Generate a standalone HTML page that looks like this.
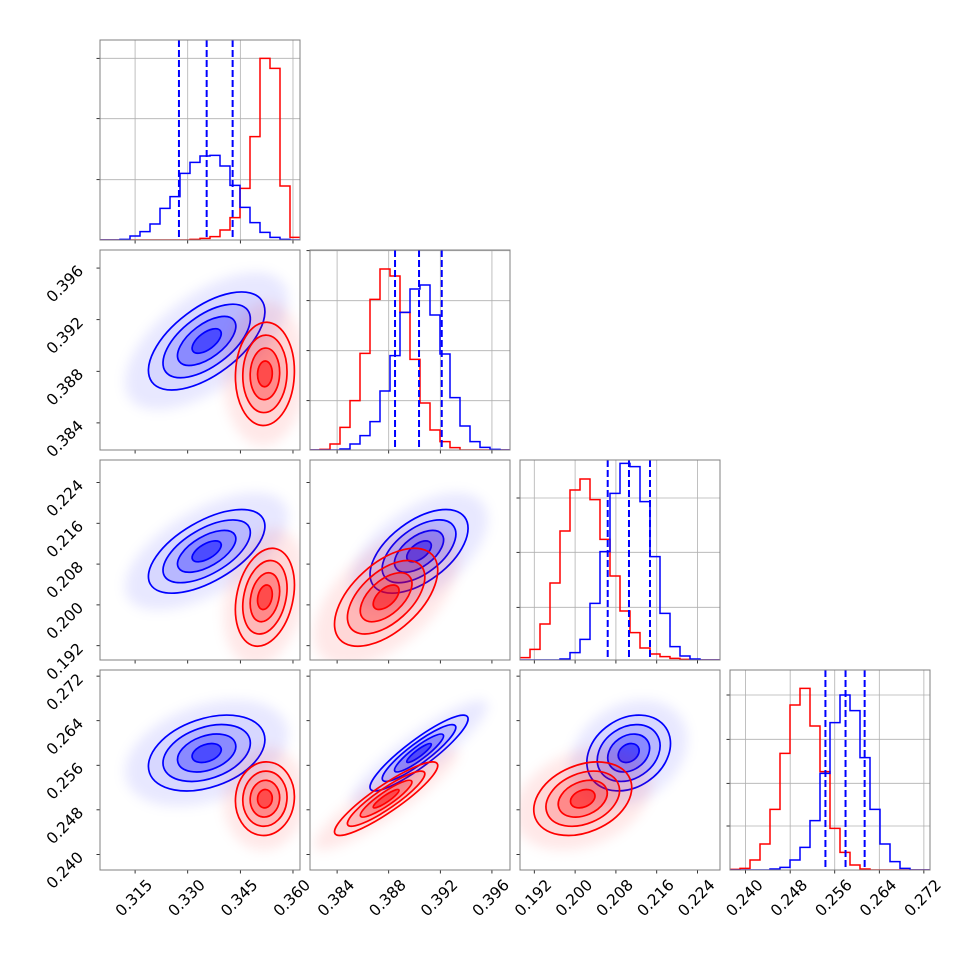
<!DOCTYPE html>
<html><head><meta charset="utf-8"><style>
html,body{margin:0;padding:0;background:#fff;}
svg{display:block;font-family:"DejaVu Sans","Liberation Sans",sans-serif;}
</style></head><body>
<svg id="chart" width="970" height="970" viewBox="0 0 970 970" xmlns="http://www.w3.org/2000/svg">
<defs>
<filter id="blur" x="-50%" y="-50%" width="200%" height="200%"><feGaussianBlur stdDeviation="6"/></filter>
</defs>
</svg>
<script>
// ---- data ----
const axisLo = [0.305, 0.3819, 0.1892, 0.2372];
const axisHi = [0.362, 0.3974, 0.2284, 0.2731];
const ticks0 = [0.315, 0.330, 0.345, 0.360];
const ticks1 = [0.384, 0.388, 0.392, 0.396];
const ticks2 = [0.192, 0.200, 0.208, 0.216, 0.224];
const ticks3 = [0.240, 0.248, 0.256, 0.264, 0.272];
const tickLabels0 = ["0.315","0.330","0.345","0.360"];
const tickLabels1 = ["0.384","0.388","0.392","0.396"];
const tickLabels2 = ["0.192","0.200","0.208","0.216","0.224"];
const tickLabels3 = ["0.240","0.248","0.256","0.264","0.272"];
const histBlue0 = [0,0,2,12,25,48,95,130,200,233,252,254,222,164,98,52,23,8,2,0];
const histRed0  = [0,0,0,0,0,0,0,0,0,2,5,10,30,67,155,310,545,515,162,8];
const histBlue1 = [0,0,0,3,18,43,85,177,283,413,483,495,405,288,157,72,25,8,2,0];
const histRed1  = [0,2,18,68,148,290,452,543,522,413,272,141,60,25,7,0,0,0,0,0];
const histBlue2 = [0,0,0,0,3,22,62,170,325,500,590,580,475,310,140,40,12,3,0,0];
const histRed2  = [7,32,108,231,387,510,543,481,362,252,147,82,36,18,10,5,2,0,0,0];
const histBlue3 = [0,0,0,0,3,8,30,68,148,290,442,525,478,337,182,78,25,5,0,0];
const histRed3  = [2,5,30,78,182,350,495,545,432,295,125,53,15,3,0,0,0,0,0,0];
const histMax = 600;
const histTicks0 = [181,364,545];
const histTicks1 = [148,298,448,598];
const histTicks2 = [158,323,486];
const histTicks3 = [132,260,392,525];
const q16Blue = [0.3275, 0.38849, 0.20639, 0.25433];
const q50Blue = [0.3354, 0.39035, 0.21056, 0.25794];
const q84Blue = [0.3428, 0.39211, 0.21468, 0.26137];
const meanBlue = [0.3354, 0.39035, 0.2105, 0.2582];
const sdBlue   = [0.0083, 0.0019, 0.0041, 0.0034];
const meanRed  = [0.3520, 0.3878, 0.2015, 0.2500];
const sdRed    = [0.0042, 0.0020, 0.0048, 0.0033];
// correlations for pairs (0,1),(0,2),(0,3),(1,2),(1,3),(2,3)
const corrBlue = [0.6, 0.6, 0.35, 0.55, 0.9, 0.25];
const corrRed  = [0.05, 0.25, 0.05, 0.55, 0.9, 0.3];
const contourLevels = [2, 1.5, 1, 0.5];

// ---- layout ----
const NS = "http://www.w3.org/2000/svg";
const svg = document.getElementById('chart');
const SZ = 200;
const ticks = [ticks0, ticks1, ticks2, ticks3];
const tickLabels = [tickLabels0, tickLabels1, tickLabels2, tickLabels3];
const histBlue = [histBlue0, histBlue1, histBlue2, histBlue3];
const histRed = [histRed0, histRed1, histRed2, histRed3];
const histTicks = [histTicks0, histTicks1, histTicks2, histTicks3];
function pairIndex(i, j) { const a = Math.min(i,j), b = Math.max(i,j); return [[-1,0,1,2],[0,-1,3,4],[1,3,-1,5],[2,4,5,-1]][a][b]; }
function mk(tag, attrs, parent) { const e = document.createElementNS(NS, tag); for (const k in attrs) e.setAttribute(k, attrs[k]); (parent||svg).appendChild(e); return e; }
function panelLeft(c) { return 100 + 210 * c; }
function panelTop(r) { return 40 + 210 * r; }
function xScale(p, c, v) { return panelLeft(c) + (v - axisLo[p]) / (axisHi[p] - axisLo[p]) * SZ; }
function yScale(p, r, v) { return panelTop(r) + SZ - (v - axisLo[p]) / (axisHi[p] - axisLo[p]) * SZ; }

for (let r = 0; r < 4; r++) {
  for (let c = 0; c <= r; c++) {
    const L = panelLeft(c), T = panelTop(r);
    const g = mk('g', {});
    
    
    const cp = mk('clipPath', {id: 'clip' + r + c}, g);
    mk('rect', {x: L, y: T, width: SZ, height: SZ}, cp);
    const inner = mk('g', {'clip-path': 'url(#clip' + r + c + ')'}, g);
    if (r === c) {
      const p = r;
      ticks[p].forEach(t => { const x = xScale(p, c, t); mk('line', {x1: x, x2: x, y1: T, y2: T + SZ, stroke: '#b0b0b0', 'stroke-width': 0.8}, inner); });
      histTicks[p].forEach(t => { const y = T + SZ - t / histMax * SZ; mk('line', {x1: L, x2: L + SZ, y1: y, y2: y, stroke: '#b0b0b0', 'stroke-width': 0.8}, inner); });
      const nb = 20, w = (axisHi[p] - axisLo[p]) / nb;
      [[histRed[p], '#ff0000', 'red'], [histBlue[p], '#0000ff', 'blue']].forEach(([h, col, nm]) => {
        let d = '';
        h.forEach((cnt, i) => {
          const x0 = xScale(p, c, axisLo[p] + i * w), x1 = xScale(p, c, axisLo[p] + (i + 1) * w);
          const y = T + SZ - cnt / histMax * SZ;
          d += (i === 0 ? 'M' + x0 + ',' + y : 'L' + x0 + ',' + y) + 'L' + x1 + ',' + y;
        });
        const path = mk('path', {d: d, fill: 'none', stroke: col, 'stroke-width': 1.5}, inner);
        
        
      });
      [q16Blue[p], q50Blue[p], q84Blue[p]].forEach((q, k) => {
        const x = xScale(p, c, q);
        const ln = mk('line', {x1: x, x2: x, y1: T, y2: T + SZ, stroke: '#0000ff', 'stroke-width': 2, 'stroke-dasharray': '7,3'}, inner);
        
        
      });
      histTicks[p].forEach(t => { const y = T + SZ - t / histMax * SZ; mk('line', {x1: L - 3.5, x2: L, y1: y, y2: y, stroke: '#000', 'stroke-width': 0.8}, g); });
    } else {
      const px = c, py = r;
      const k = pairIndex(px, py);
      [['blue', meanBlue, sdBlue, corrBlue, '0,0,255'], ['red', meanRed, sdRed, corrRed, '255,0,0']].forEach(([nm, mu, sd, cr, rgb]) => {
        const cx = xScale(px, c, mu[px]), cy = yScale(py, r, mu[py]);
        const sx = sd[px] / (axisHi[px] - axisLo[px]) * SZ, sy = sd[py] / (axisHi[py] - axisLo[py]) * SZ;
        const a = sx * sx, d = sy * sy, b = -cr[k] * sx * sy;
        const m = (a + d) / 2, disc = Math.sqrt(((a - d) / 2) ** 2 + b * b);
        const l1 = m + disc, l2 = Math.max(m - disc, 0.5);
        const ang = 0.5 * Math.atan2(2 * b, a - d) * 180 / Math.PI;
        const eg = mk('g', {transform: 'translate(' + cx + ',' + cy + ') rotate(' + ang + ')'}, inner);
        
        
        const cloud = mk('ellipse', {cx: 0, cy: 0, rx: 2.8 * Math.sqrt(l1), ry: 2.8 * Math.sqrt(l2), fill: 'rgba(' + rgb + ',0.09)', filter: 'url(#blur)'}, eg);
        
        
        const fills = [0.07, 0.14, 0.25, 0.45];
        contourLevels.forEach((lv, i) => {
          mk('ellipse', {cx: 0, cy: 0, rx: lv * Math.sqrt(l1), ry: lv * Math.sqrt(l2), fill: 'rgba(' + rgb + ',' + fills[i] + ')'}, eg);
        });
        contourLevels.forEach(lv => {
          const e = mk('ellipse', {cx: 0, cy: 0, rx: lv * Math.sqrt(l1), ry: lv * Math.sqrt(l2), fill: 'none', stroke: 'rgb(' + rgb + ')', 'stroke-width': 1.7}, eg);
          
          
        });
      });
      ticks[py].forEach(t => { const y = yScale(py, r, t); if (y >= T && y <= T + SZ) mk('line', {x1: L - 3.5, x2: L, y1: y, y2: y, stroke: '#000', 'stroke-width': 0.8}, g); });
      if (c === 0) {
        ticks[py].forEach((t, i) => {
          const y = yScale(py, r, t);
          const tx = mk('text', {x: 0, y: 0, 'font-size': 15.5, 'text-anchor': 'middle', 'dominant-baseline': 'central', transform: 'translate(' + (L - 35) + ',' + (y + 16) + ') rotate(-45)'}, g);
          tx.textContent = tickLabels[py][i];
          
          
        });
      }
    }
    ticks[c].forEach((t, i) => {
      const x = xScale(c, c, t);
      if (x >= L && x <= L + SZ) mk('line', {x1: x, x2: x, y1: T + SZ, y2: T + SZ + 3.5, stroke: '#000', 'stroke-width': 0.8}, g);
      if (r === 3) {
        const tx = mk('text', {x: 0, y: 0, 'font-size': 15.5, 'text-anchor': 'middle', 'dominant-baseline': 'central', transform: 'translate(' + (x - 1) + ',' + (T + SZ + 28) + ') rotate(-45)'}, g);
        tx.textContent = tickLabels[c][i];
        
        
      }
    });
    const frame = mk('rect', {x: L, y: T, width: SZ, height: SZ, fill: 'none', stroke: '#808080', 'stroke-width': 1}, g);
    
    
  }
}
</script>
</body></html>
